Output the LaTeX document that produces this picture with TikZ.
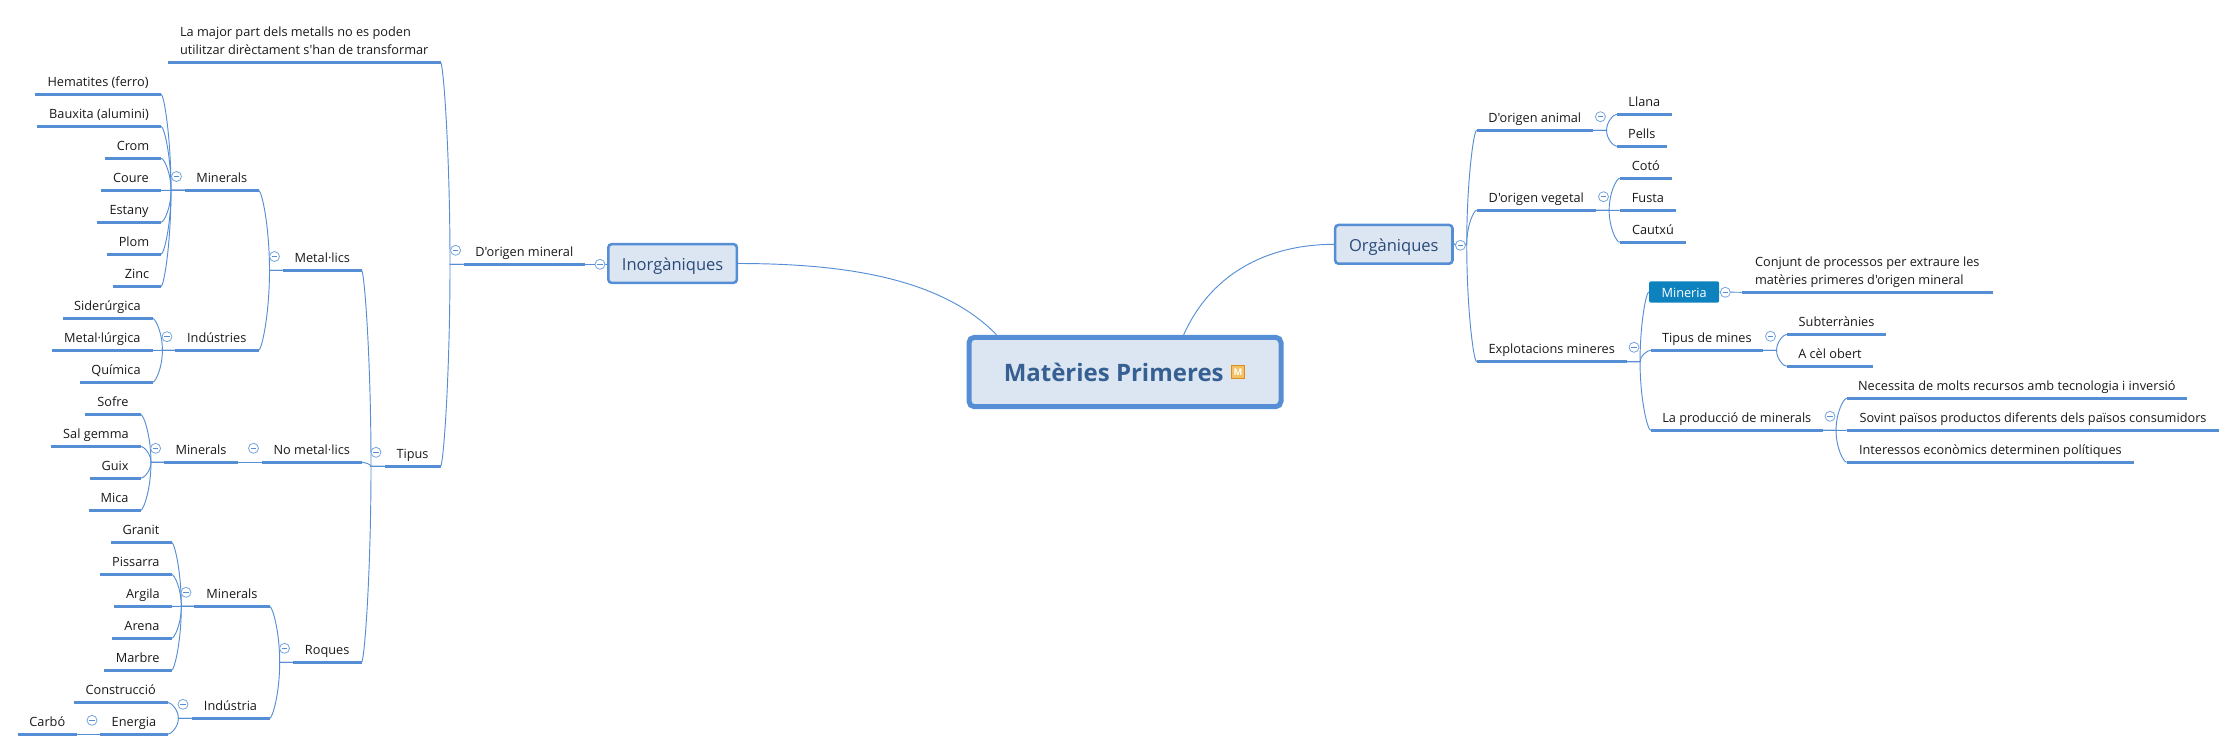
\documentclass[tikz,border=0pt]{standalone}
\usepackage{fontspec}
\setmainfont{Open Sans}[Ligatures=TeXOff]
\usetikzlibrary{calc}
\definecolor{lnk}{HTML}{558ED5}
\definecolor{boxf}{HTML}{DCE6F2}
\definecolor{ttl}{HTML}{376092}
\definecolor{sub}{HTML}{2A4A78}
\definecolor{minb}{HTML}{0D82BF}
\definecolor{mo}{HTML}{D98F1A}
\definecolor{mf}{HTML}{F6C064}
\tikzset{
 x=0.75pt,y=-0.75pt,
 topicbase/.style={inner sep=0pt,text depth=5.7pt,font=\fontsize{9.55pt}{13.5pt}\selectfont,text=black!90,anchor=south west},
 topic/.style={topicbase,text height=9pt},
 uline/.style={draw=lnk,line width=1.9pt},
 link/.style={draw=lnk,line width=0.7pt},
 collapse/.style={circle,draw=lnk!80,fill=white,line width=0.6pt,minimum size=7.5pt,inner sep=0pt,
   path picture={\draw[lnk,line width=0.5pt] ($(path picture bounding box.west)+(1.8pt,0)$)--($(path picture bounding box.east)+(-1.8pt,0)$);}},
 subbox/.style={rectangle,rounded corners=2.5pt,draw=lnk,fill=boxf,line width=1.9pt,text=sub,inner sep=0pt,
   text height=12.5pt,text depth=1.5pt,font=\fontsize{12.4pt}{16pt}\selectfont},
 rootbox/.style={rectangle,rounded corners=4pt,draw=lnk,fill=boxf,line width=3.75pt,text=ttl,inner sep=0pt,
   minimum width=234pt,minimum height=52pt,font=\fontsize{18pt}{22pt}\selectfont\bfseries},
 markerbox/.style={rectangle,draw=mo,fill=mf,line width=1pt,text=white,inner sep=0pt,minimum size=9.75pt,
   font=\fontsize{7pt}{8pt}\selectfont\bfseries},
 minbox/.style={rectangle,rounded corners=1.5pt,fill=minb,text=white,inner sep=0pt,minimum width=52.6pt,minimum height=16pt,
   text height=9pt,text depth=1.5pt,font=\fontsize{9.55pt}{13.5pt}\selectfont},
}
% name, x1, x2, y, text
\newcommand\tp[5]{\node[topic,minimum width={(#3-#2)*0.75pt}] (#1) at (#2,#4) {#5};
 \draw[uline] (#1.south west)--(#1.south east);}
\newcommand\nt[6]{\node[topicbase,minimum width={(#3-#2)*0.75pt}] (#1) at (#2,#4) {\vbox{\baselineskip=13.5pt\hbox{#5}\hbox{#6}}};
 \draw[uline] (#1.south west)--(#1.south east);}
% start, end, dx
\newcommand\lk[3]{\coordinate (sp) at ($(#1)+(#3,0)$);
 \draw[link] (#1) -- (sp) .. controls ($(sp)!0.55!(sp |- #2)$) and ($(#2)!0.3!(sp |- #2)$) .. (#2);}
\newcommand\cc[3]{\node[collapse] (#1) at (#2,#3) {};}
\begin{document}
\begin{tikzpicture}
\useasboundingbox (0,0) rectangle (2236,751);
% main nodes
\node[rootbox] (root) at (1125,372) {Matèries Primeres\hspace*{17pt}};
\node[markerbox] (mark) at (1238,372) {M};
\node[subbox,minimum width=96.4pt,minimum height=29pt] (inorg) at (672.6,263.5) {Inorgàniques};
\node[subbox,minimum width=88pt,minimum height=29pt] (org) at (1393.8,244.3) {Orgàniques};
% left topics
\tp{dmin}{463.5}{584.5}{264.3}{D'origen mineral}
\nt{nmet}{168}{440}{62.3}{La major part dels metalls no es poden}{utilitzar dirèctament s'han de transformar}
\tp{tip}{384.5}{440}{466.3}{Tipus}
\tp{met}{283}{361}{270.3}{Metal·lics}
\tp{mina}{185}{258}{190.3}{Minerals}
\tp{hem}{35}{160.5}{94.3}{Hematites (ferro)}
\tp{bau}{37}{160.5}{126.3}{Bauxita (alumini)}
\tp{cro}{105}{160.5}{158.3}{Crom}
\tp{cou}{101}{160.5}{190.3}{Coure}
\tp{est}{97}{160.5}{222.3}{Estany}
\tp{plo}{107}{160.5}{254.3}{Plom}
\tp{zin}{113}{160.5}{286.3}{Zinc}
\tp{ind}{175}{258}{350.3}{Indústries}
\tp{sid}{62.5}{152}{318.3}{Siderúrgica}
\tp{mtl}{52}{152}{350.3}{Metal·lúrgica}
\tp{qui}{79.5}{152}{382.3}{Química}
\tp{nom}{262}{361}{462.3}{No metal·lics}
\tp{minb}{164}{237.5}{462.3}{Minerals}
\tp{sof}{85.3}{140}{414.3}{Sofre}
\tp{sal}{51.4}{140}{446.3}{Sal gemma}
\tp{gui}{89.7}{140}{478.3}{Guix}
\tp{mic}{88.7}{140}{510.3}{Mica}
\tp{roq}{292.8}{361}{662.3}{Roques}
\tp{minc}{194.4}{269}{606.3}{Minerals}
\tp{gra}{110.5}{171}{542.3}{Granit}
\tp{pis}{100.3}{171}{574.3}{Pissarra}
\tp{arg}{114.4}{171}{606.3}{Argila}
\tp{are}{112.4}{171}{638.3}{Arena}
\tp{mar}{103.7}{171}{670.3}{Marbre}
\tp{inda}{191.5}{269}{718.3}{Indústria}
\tp{con}{73.7}{167}{702.3}{Construcció}
\tp{ene}{100.3}{167}{734.3}{Energia}
\tp{car}{17.5}{76.6}{734.3}{Carbó}
% right topics
\tp{dan}{1476.6}{1592.3}{130.3}{D'origen animal}
\tp{lla}{1616.7}{1671.5}{114.3}{Llana}
\tp{pel}{1616.7}{1666.4}{146.3}{Pells}
\tp{dve}{1476.6}{1595.4}{210.3}{D'origen vegetal}
\tp{cot}{1619.7}{1671.5}{178.3}{Cotó}
\tp{fus}{1619.7}{1675.6}{210.3}{Fusta}
\tp{cau}{1619.7}{1685.7}{242.3}{Cautxú}
\tp{exp}{1476.6}{1626.3}{361.7}{Explotacions mineres}
\node[minbox] (mnr) at (1684.1,292) {Mineria};
\nt{ncon}{1741.6}{1992.4}{292.3}{Conjunt de processos per extraure les}{matèries primeres d'origen mineral}
\tp{tdm}{1650.7}{1762.4}{350.3}{Tipus de mines}
\tp{sot}{1786.8}{1885.8}{334.3}{Subterrànies}
\tp{cel}{1786.8}{1872.6}{366.3}{A cèl obert}
\tp{pro}{1650.7}{1822.3}{430.3}{La producció de minerals}
\tp{nec}{1846.7}{2186.3}{398.3}{Necessita de molts recursos amb tecnologia i inversió}
\tp{sov}{1846.7}{2218.8}{430.3}{Sovint països productos diferents dels països consumidors}
\tp{itr}{1846.7}{2133.5}{462.3}{Interessos econòmics determinen polítiques}
% root links
\coordinate (rA) at ($(root.north west)!0.095!(root.north east)$);
\coordinate (rB) at ($(root.north west)!0.685!(root.north east)$);
\draw[link] (rA) .. controls +(-53.5,-55) and ($(inorg.east)+(112,0)$) .. (inorg.east);
\draw[link] (rB) .. controls +(30,-67) and ($(org.west)+(-59,0)$) .. (org.west);
% links
\draw[link] (inorg.west |- dmin.south east) -- (dmin.south east);
\lk{dmin.south west}{nmet.south east}{-13.5}
\lk{dmin.south west}{tip.south east}{-13.5}
\lk{tip.south west}{met.south east}{-13.5}
\lk{tip.south west}{nom.south east}{-13.5}
\lk{tip.south west}{roq.south east}{-13.5}
\lk{met.south west}{mina.south east}{-13.5}
\lk{met.south west}{ind.south east}{-13.5}
\foreach \k in {hem,bau,cro,cou,est,plo,zin}{\lk{mina.south west}{\k.south east}{-14}}
\foreach \k in {sid,mtl,qui}{\lk{ind.south west}{\k.south east}{-12.6}}
\draw[link] (nom.south west) -- (minb.south east);
\foreach \k in {sof,sal,gui,mic}{\lk{minb.south west}{\k.south east}{-13}}
\lk{roq.south west}{minc.south east}{-13.1}
\lk{roq.south west}{inda.south east}{-13.1}
\foreach \k in {gra,pis,arg,are,mar}{\lk{minc.south west}{\k.south east}{-13.1}}
\foreach \k in {con,ene}{\lk{inda.south west}{\k.south east}{-13.1}}
\draw[link] (ene.south west) -- (car.south east);
\foreach \k in {dan,dve,exp}{\lk{org.east}{\k.south west}{13}}
\foreach \k in {lla,pel}{\lk{dan.south east}{\k.south west}{13.7}}
\foreach \k in {cot,fus,cau}{\lk{dve.south east}{\k.south west}{13.2}}
\lk{exp.south east}{mnr.west}{13.2}
\lk{exp.south east}{tdm.south west}{13.2}
\lk{exp.south east}{pro.south west}{13.2}
\draw[link] (mnr.east) -- (ncon.south west);
\foreach \k in {sot,cel}{\lk{tdm.south east}{\k.south west}{13.6}}
\foreach \k in {nec,sov,itr}{\lk{pro.south east}{\k.south west}{13.2}}
% collapse markers
\cc{c1}{600}{264.3}
\cc{c2}{455.6}{250.3}
\cc{c3}{376}{452.3}
\cc{c4}{274.5}{256.5}
\cc{c5}{176.5}{176.5}
\cc{c6}{167}{336.7}
\cc{c7}{253.5}{448.3}
\cc{c8}{155.6}{448.3}
\cc{c9}{284.5}{648.3}
\cc{c10}{186}{592.3}
\cc{c11}{183}{704.3}
\cc{c12}{92}{720.3}
\cc{c13}{1460.4}{245.3}
\cc{c14}{1600.4}{116.7}
\cc{c15}{1603.5}{196.7}
\cc{c16}{1634}{347.3}
\cc{c17}{1725.3}{292.3}
\cc{c18}{1770.5}{336.3}
\cc{c19}{1830}{416.3}
\end{tikzpicture}
\end{document}
